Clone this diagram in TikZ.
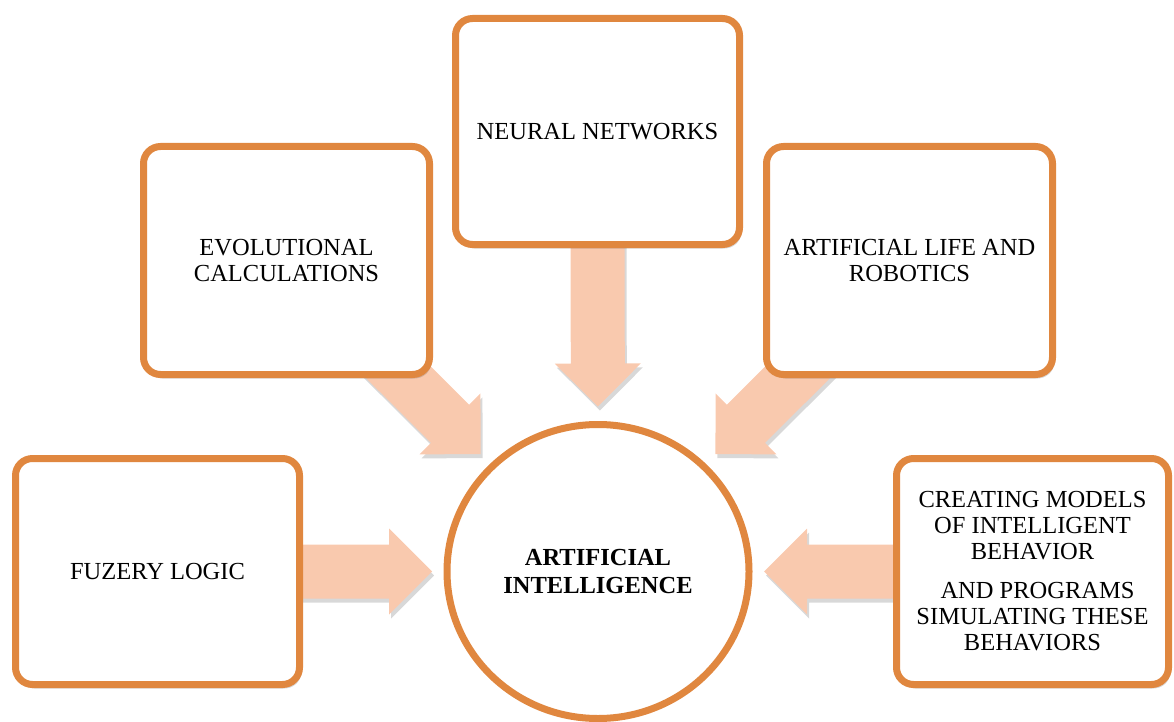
\documentclass[tikz,border=0pt]{standalone}
\usepackage{fontspec}
\setmainfont{Liberation Serif}
\usetikzlibrary{calc,shapes.geometric,shadows}
\definecolor{aiorange}{RGB}{224,135,63}
\definecolor{aipeach}{RGB}{249,201,174}
\pgfdeclarelayer{background}
\pgfsetlayers{background,main}
\begin{document}
\begin{tikzpicture}[x=1pt,y=-1pt,
  softshadow/.style={drop shadow={shadow xshift=2pt,shadow yshift=-4pt,opacity=0.22,fill=black!70}},
  box/.style={rectangle,draw=aiorange,line width=7pt,rounded corners=17pt,fill=white,
    inner sep=0pt,align=center,font=\fontsize{24.5}{26}\selectfont,softshadow},
  hub/.style={ellipse,draw=aiorange,line width=7pt,fill=white,inner sep=0pt,
    align=center,font=\fontsize{24.5}{28}\selectfont\bfseries},
  blockarrow/.style={fill=aipeach,draw=none,softshadow,
    to path={
      ($(\tikztostart)!27pt!90:(\tikztotarget)$)
      -- ($(\tikztotarget)!43pt!(\tikztostart)!27pt!-90:(\tikztostart)$)
      -- ($(\tikztotarget)!43pt!(\tikztostart)!43pt!-90:(\tikztostart)$)
      -- (\tikztotarget)
      -- ($(\tikztotarget)!43pt!(\tikztostart)!43pt!90:(\tikztostart)$)
      -- ($(\tikztotarget)!43pt!(\tikztostart)!27pt!90:(\tikztostart)$)
      -- ($(\tikztostart)!27pt!-90:(\tikztotarget)$)
      -- cycle}}
]
\useasboundingbox (0,0) rectangle (1174,722);

\node[box,minimum width=284pt,minimum height=226pt] (fuzzy) at (157.5,571.5) {FUZERY LOGIC};
\node[box,minimum width=286pt,minimum height=228pt] (evo) at (286.5,260.5) {EVOLUTIONAL\\CALCULATIONS};
\node[box,minimum width=284pt,minimum height=226pt] (nn) at (597.5,131.5) {NEURAL NETWORKS};
\node[box,minimum width=286pt,minimum height=228pt] (alife) at (909.5,260.5) {ARTIFICIAL LIFE AND\\ROBOTICS};
\node[box,minimum width=272pt,minimum height=226pt] (cm) at (1032.5,571.5)
  {CREATING MODELS\\OF INTELLIGENT\\BEHAVIOR\\[13pt]\hspace*{10pt}AND PROGRAMS\\SIMULATING THESE\\BEHAVIORS};
\node[hub,minimum width=302pt,minimum height=294pt] (ai) at (598,571.5) {ARTIFICIAL\\INTELLIGENCE};

\coordinate (tfuzzy) at ($(ai.center)!166pt!(fuzzy.center)$);
\coordinate (tevo) at ($(ai.center)!166pt!(evo.center)$);
\coordinate (tnn) at ($(ai.center)!165pt!(nn.center)$);
\coordinate (talife) at ($(ai.center)!166pt!(alife.center)$);
\coordinate (tcm) at ($(ai.center)!166pt!(cm.center)$);

\begin{pgfonlayer}{background}
  \path[blockarrow] (fuzzy.center) to (tfuzzy);
  \path[blockarrow] (evo.center) to (tevo);
  \path[blockarrow] (nn.center) to (tnn);
  \path[blockarrow] (alife.center) to (talife);
  \path[blockarrow] (cm.center) to (tcm);
\end{pgfonlayer}
\end{tikzpicture}
\end{document}
